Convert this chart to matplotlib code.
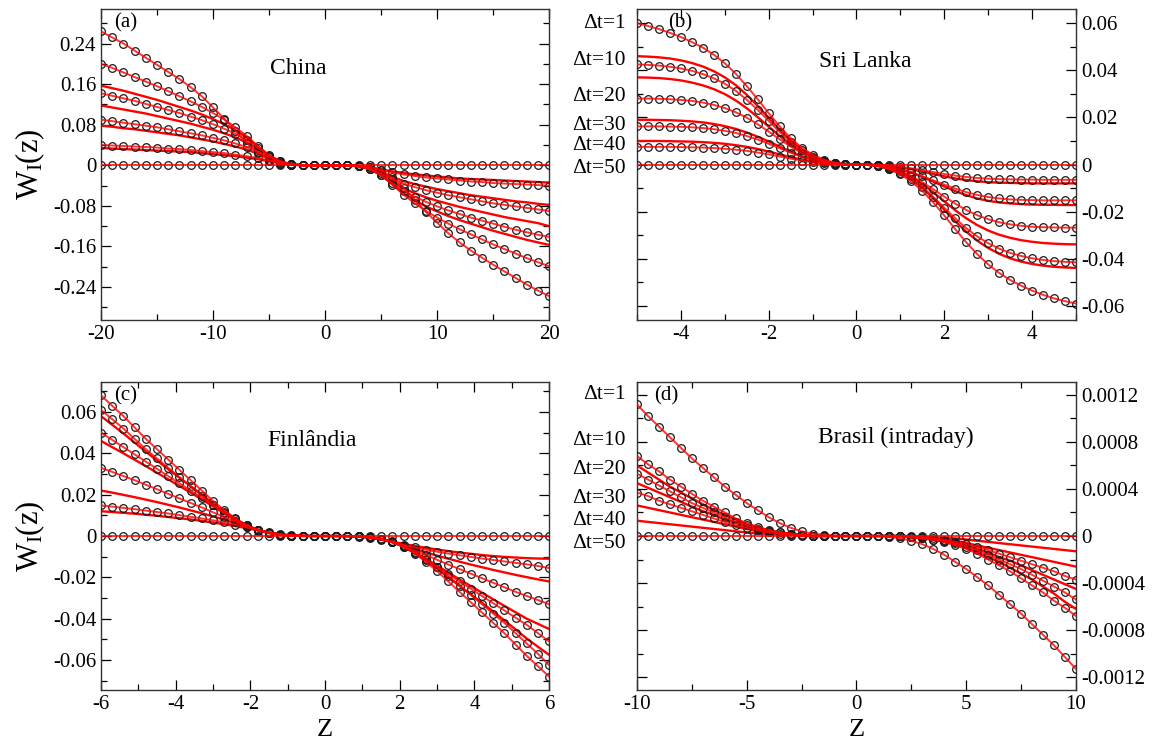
import numpy as np
import matplotlib.pyplot as plt
from matplotlib.ticker import MultipleLocator

plt.rcParams['font.family'] = ['Liberation Serif', 'DejaVu Serif']
plt.rcParams['mathtext.fontset'] = 'custom'
plt.rcParams['mathtext.rm'] = 'Liberation Serif'
plt.rcParams['mathtext.it'] = 'Liberation Serif:italic'

# ---------------- (a) China ----------------
z_china = np.linspace(-20, 20, 41)
china_dt1 = [0.264, 0.252, 0.240, 0.226, 0.212, 0.198, 0.184, 0.170, 0.154, 0.136, 0.114, 0.092, 0.068, 0.044, 0.024, 0.010, 0.003, 0.001, 0.0, 0.0,
             0.0,
             0.0, 0.0, -0.001, -0.003, -0.010, -0.024, -0.044, -0.068, -0.092, -0.113, -0.134, -0.152, -0.168, -0.182, -0.196, -0.209, -0.222, -0.235, -0.247, -0.258]
china_dt10 = [0.200, 0.192, 0.183, 0.174, 0.165, 0.156, 0.146, 0.136, 0.126, 0.115, 0.103, 0.090, 0.075, 0.058, 0.038, 0.020, 0.008, 0.002, 0.0, 0.0,
              0.0,
              0.0, 0.0, -0.002, -0.008, -0.020, -0.038, -0.058, -0.075, -0.090, -0.103, -0.115, -0.126, -0.136, -0.146, -0.156, -0.165, -0.174, -0.183, -0.191, -0.199]
china_dt20 = [0.142, 0.137, 0.132, 0.127, 0.121, 0.115, 0.109, 0.103, 0.096, 0.089, 0.081, 0.072, 0.062, 0.050, 0.035, 0.019, 0.008, 0.002, 0.0, 0.0,
              0.0,
              0.0, 0.0, -0.002, -0.008, -0.019, -0.035, -0.050, -0.062, -0.072, -0.081, -0.089, -0.096, -0.103, -0.109, -0.115, -0.121, -0.127, -0.132, -0.137, -0.141]
china_dt30 = [0.090, 0.087, 0.084, 0.081, 0.078, 0.075, 0.071, 0.067, 0.063, 0.059, 0.054, 0.049, 0.043, 0.036, 0.027, 0.016, 0.007, 0.002, 0.0, 0.0,
              0.0,
              0.0, 0.0, -0.002, -0.007, -0.016, -0.027, -0.036, -0.043, -0.049, -0.054, -0.059, -0.063, -0.067, -0.071, -0.075, -0.078, -0.081, -0.084, -0.087, -0.090]
china_dt40 = [0.040, 0.039, 0.038, 0.037, 0.036, 0.035, 0.033, 0.032, 0.030, 0.028, 0.026, 0.024, 0.021, 0.018, 0.014, 0.009, 0.004, 0.001, 0.0, 0.0,
              0.0,
              0.0, 0.0, -0.001, -0.004, -0.009, -0.014, -0.018, -0.021, -0.024, -0.026, -0.028, -0.030, -0.032, -0.033, -0.035, -0.036, -0.037, -0.038, -0.039, -0.040]
china_dt50 = [0.0] * 41
china_fit_a = [0.157, 0.152, 0.147, 0.141, 0.135, 0.129, 0.122, 0.115, 0.108, 0.100, 0.091, 0.081, 0.069, 0.055, 0.037, 0.019, 0.007, 0.002, 0.0, 0.0,
               0.0,
               0.0, 0.0, -0.002, -0.007, -0.019, -0.037, -0.055, -0.069, -0.081, -0.091, -0.100, -0.108, -0.115, -0.122, -0.129, -0.135, -0.141, -0.147, -0.152, -0.157]
china_fit_b = [0.118, 0.114, 0.110, 0.106, 0.102, 0.097, 0.092, 0.087, 0.082, 0.076, 0.070, 0.063, 0.055, 0.045, 0.032, 0.018, 0.007, 0.002, 0.0, 0.0,
               0.0,
               0.0, 0.0, -0.002, -0.007, -0.018, -0.032, -0.045, -0.055, -0.063, -0.070, -0.076, -0.082, -0.087, -0.092, -0.097, -0.102, -0.106, -0.110, -0.114, -0.120]
china_fit_c = [0.078, 0.076, 0.073, 0.071, 0.068, 0.065, 0.062, 0.059, 0.055, 0.051, 0.047, 0.042, 0.037, 0.031, 0.023, 0.014, 0.006, 0.002, 0.0, 0.0,
               0.0,
               0.0, 0.0, -0.002, -0.006, -0.014, -0.023, -0.031, -0.037, -0.042, -0.047, -0.051, -0.055, -0.059, -0.062, -0.065, -0.068, -0.071, -0.073, -0.076, -0.078]
china_fit_d = [0.034, 0.033, 0.032, 0.031, 0.030, 0.029, 0.028, 0.027, 0.026, 0.024, 0.022, 0.020, 0.018, 0.015, 0.012, 0.008, 0.004, 0.001, 0.0, 0.0,
               0.0,
               0.0, 0.0, -0.001, -0.004, -0.008, -0.012, -0.015, -0.018, -0.020, -0.022, -0.024, -0.026, -0.027, -0.028, -0.029, -0.030, -0.031, -0.032, -0.033, -0.034]

# ---------------- (b) Sri Lanka ----------------
z_sri = np.linspace(-5, 5, 41)
sri_dt1 = [0.0600, 0.0588, 0.0575, 0.0559, 0.0541, 0.0520, 0.0496, 0.0466, 0.0430, 0.0385, 0.0333, 0.0277, 0.0218, 0.0162, 0.0112, 0.0072, 0.0042, 0.0021, 0.0008, 0.0002,
           0.0,
           -0.0002, -0.0008, -0.0021, -0.0042, -0.0072, -0.0112, -0.0161, -0.0216, -0.0274, -0.0330, -0.0380, -0.0424, -0.0460, -0.0490, -0.0514, -0.0535, -0.0553, -0.0568, -0.0580, -0.0590]
sri_dt10 = [0.0425, 0.0423, 0.0420, 0.0415, 0.0408, 0.0398, 0.0384, 0.0366, 0.0343, 0.0313, 0.0275, 0.0232, 0.0185, 0.0138, 0.0095, 0.0060, 0.0034, 0.0017, 0.0006, 0.0001,
            0.0,
            -0.0001, -0.0006, -0.0017, -0.0034, -0.0060, -0.0095, -0.0137, -0.0183, -0.0228, -0.0270, -0.0305, -0.0334, -0.0357, -0.0375, -0.0388, -0.0398, -0.0405, -0.0410, -0.0413, -0.0415]
sri_dt20 = [0.0280, 0.0280, 0.0279, 0.0277, 0.0274, 0.0270, 0.0263, 0.0253, 0.0240, 0.0222, 0.0199, 0.0171, 0.0140, 0.0107, 0.0076, 0.0049, 0.0029, 0.0015, 0.0005, 0.0001,
            0.0,
            -0.0001, -0.0005, -0.0015, -0.0029, -0.0049, -0.0075, -0.0105, -0.0136, -0.0166, -0.0193, -0.0215, -0.0232, -0.0245, -0.0254, -0.0260, -0.0264, -0.0266, -0.0267, -0.0268, -0.0268]
sri_dt30 = [0.0162, 0.0162, 0.0162, 0.0161, 0.0160, 0.0158, 0.0155, 0.0150, 0.0143, 0.0134, 0.0121, 0.0106, 0.0088, 0.0069, 0.0050, 0.0033, 0.0020, 0.0010, 0.0004, 0.0001,
            0.0,
            -0.0001, -0.0004, -0.0010, -0.0020, -0.0033, -0.0049, -0.0067, -0.0085, -0.0102, -0.0117, -0.0129, -0.0138, -0.0144, -0.0148, -0.0150, -0.0151, -0.0152, -0.0152, -0.0152, -0.0152]
sri_dt40 = [0.0075, 0.0075, 0.0075, 0.0075, 0.0074, 0.0073, 0.0072, 0.0070, 0.0067, 0.0063, 0.0058, 0.0051, 0.0043, 0.0034, 0.0025, 0.0017, 0.0010, 0.0005, 0.0002, 0.0,
            0.0,
            0.0, -0.0002, -0.0005, -0.0010, -0.0016, -0.0024, -0.0032, -0.0040, -0.0047, -0.0053, -0.0057, -0.0060, -0.0062, -0.0063, -0.0064, -0.0064, -0.0065, -0.0065, -0.0065, -0.0065]
sri_dt50 = [0.0] * 41
sri_fit_a = [0.0460, 0.0458, 0.0455, 0.0450, 0.0442, 0.0431, 0.0416, 0.0396, 0.0370, 0.0337, 0.0296, 0.0249, 0.0198, 0.0148, 0.0102, 0.0064, 0.0036, 0.0018, 0.0006, 0.0001,
             0.0,
             -0.0001, -0.0006, -0.0018, -0.0036, -0.0063, -0.0099, -0.0143, -0.0192, -0.0241, -0.0285, -0.0323, -0.0354, -0.0379, -0.0398, -0.0412, -0.0422, -0.0429, -0.0434, -0.0437, -0.0439]
sri_fit_b = [0.0370, 0.0369, 0.0367, 0.0363, 0.0357, 0.0348, 0.0336, 0.0320, 0.0299, 0.0272, 0.0239, 0.0201, 0.0161, 0.0121, 0.0084, 0.0053, 0.0030, 0.0015, 0.0005, 0.0001,
             0.0,
             -0.0001, -0.0005, -0.0015, -0.0030, -0.0052, -0.0082, -0.0118, -0.0156, -0.0194, -0.0228, -0.0257, -0.0280, -0.0298, -0.0311, -0.0321, -0.0328, -0.0333, -0.0336, -0.0338, -0.0339]
sri_fit_c = [0.0190, 0.0190, 0.0189, 0.0188, 0.0186, 0.0183, 0.0179, 0.0172, 0.0163, 0.0151, 0.0136, 0.0118, 0.0098, 0.0076, 0.0055, 0.0036, 0.0021, 0.0011, 0.0004, 0.0001,
             0.0,
             -0.0001, -0.0004, -0.0011, -0.0021, -0.0035, -0.0053, -0.0073, -0.0093, -0.0113, -0.0130, -0.0144, -0.0154, -0.0161, -0.0165, -0.0168, -0.0170, -0.0171, -0.0171, -0.0172, -0.0172]
sri_fit_d = [0.0100, 0.0100, 0.0100, 0.0099, 0.0098, 0.0097, 0.0095, 0.0092, 0.0088, 0.0082, 0.0075, 0.0066, 0.0055, 0.0043, 0.0031, 0.0021, 0.0012, 0.0006, 0.0002, 0.0,
             0.0,
             0.0, -0.0002, -0.0006, -0.0012, -0.0020, -0.0030, -0.0040, -0.0050, -0.0059, -0.0066, -0.0071, -0.0075, -0.0077, -0.0078, -0.0079, -0.0080, -0.0080, -0.0080, -0.0080, -0.0080]

# ---------------- (c) Finlandia ----------------
z_fin = np.linspace(-6, 6, 41)
fin_dt1 = [0.068, 0.063, 0.058, 0.0525, 0.047, 0.042, 0.037, 0.032, 0.027, 0.022, 0.017, 0.0125, 0.0085, 0.0052, 0.003, 0.0015, 0.0007, 0.0002, 0.0, 0.0,
           0.0,
           0.0, 0.0, -0.0002, -0.0007, -0.0015, -0.003, -0.0052, -0.0085, -0.0125, -0.017, -0.022, -0.027, -0.032, -0.037, -0.042, -0.047, -0.0525, -0.058, -0.063, -0.068]
fin_dt10 = [0.061, 0.0565, 0.052, 0.047, 0.042, 0.0375, 0.033, 0.0285, 0.024, 0.0195, 0.015, 0.011, 0.0075, 0.0046, 0.0026, 0.0013, 0.0006, 0.0002, 0.0, 0.0,
            0.0,
            0.0, 0.0, -0.0002, -0.0006, -0.0013, -0.0026, -0.0046, -0.0075, -0.011, -0.015, -0.0195, -0.024, -0.0285, -0.033, -0.0375, -0.042, -0.047, -0.052, -0.057, -0.0625]
fin_dt20 = [0.050, 0.0465, 0.043, 0.0395, 0.036, 0.0325, 0.029, 0.0255, 0.022, 0.0185, 0.015, 0.0115, 0.0082, 0.0053, 0.003, 0.0015, 0.0006, 0.0002, 0.0, 0.0,
            0.0,
            0.0, 0.0, -0.0002, -0.0006, -0.0015, -0.003, -0.0053, -0.0082, -0.0115, -0.015, -0.0185, -0.022, -0.0255, -0.029, -0.0325, -0.036, -0.0395, -0.043, -0.047, -0.051]
fin_dt30 = [0.033, 0.031, 0.029, 0.027, 0.0248, 0.0226, 0.0204, 0.0182, 0.016, 0.0138, 0.0115, 0.0092, 0.007, 0.0048, 0.003, 0.0016, 0.0007, 0.0002, 0.0, 0.0,
            0.0,
            0.0, 0.0, -0.0002, -0.0007, -0.0016, -0.003, -0.0048, -0.007, -0.0092, -0.0115, -0.0138, -0.016, -0.0182, -0.0204, -0.0226, -0.0248, -0.027, -0.029, -0.031, -0.033]
fin_dt40 = [0.0148, 0.0142, 0.0136, 0.013, 0.0123, 0.0116, 0.0109, 0.0101, 0.0093, 0.0085, 0.0076, 0.0066, 0.0055, 0.0042, 0.0029, 0.0017, 0.0008, 0.0003, 0.0001, 0.0,
            0.0,
            0.0, -0.0001, -0.0003, -0.0008, -0.0017, -0.0029, -0.0042, -0.0055, -0.0066, -0.0076, -0.0085, -0.0093, -0.0101, -0.0109, -0.0116, -0.0123, -0.013, -0.0137, -0.0145, -0.0155]
fin_dt50 = [0.0] * 41
fin_fit_a = [0.058, 0.0538, 0.0496, 0.0452, 0.0408, 0.0365, 0.0323, 0.0282, 0.0241, 0.0200, 0.0158, 0.0118, 0.0082, 0.0051, 0.0029, 0.0014, 0.0006, 0.0002, 0.0, 0.0,
             0.0,
             0.0, 0.0, -0.0002, -0.0006, -0.0014, -0.0029, -0.0051, -0.0082, -0.0118, -0.0158, -0.0200, -0.0241, -0.0282, -0.0323, -0.0365, -0.0408, -0.0452, -0.0496, -0.0536, -0.0575]
fin_fit_b = [0.046, 0.0430, 0.0400, 0.0369, 0.0338, 0.0306, 0.0274, 0.0242, 0.0210, 0.0177, 0.0143, 0.0110, 0.0079, 0.0051, 0.0029, 0.0015, 0.0006, 0.0002, 0.0, 0.0,
             0.0,
             0.0, 0.0, -0.0002, -0.0006, -0.0015, -0.0029, -0.0051, -0.0079, -0.0110, -0.0143, -0.0177, -0.0210, -0.0242, -0.0274, -0.0306, -0.0338, -0.0369, -0.0400, -0.0425, -0.0450]
fin_fit_c = [0.022, 0.0210, 0.0199, 0.0188, 0.0176, 0.0164, 0.0151, 0.0138, 0.0124, 0.0110, 0.0095, 0.0079, 0.0062, 0.0045, 0.0030, 0.0017, 0.0008, 0.0003, 0.0001, 0.0,
             0.0,
             0.0, -0.0001, -0.0003, -0.0008, -0.0017, -0.0030, -0.0045, -0.0062, -0.0079, -0.0095, -0.0110, -0.0124, -0.0138, -0.0151, -0.0164, -0.0176, -0.0188, -0.0199, -0.0210, -0.0220]
fin_fit_d = [0.012, 0.0116, 0.0112, 0.0108, 0.0103, 0.0098, 0.0092, 0.0086, 0.0080, 0.0073, 0.0065, 0.0057, 0.0048, 0.0038, 0.0027, 0.0016, 0.0008, 0.0003, 0.0001, 0.0,
             0.0,
             0.0, -0.0001, -0.0003, -0.0008, -0.0016, -0.0027, -0.0038, -0.0048, -0.0057, -0.0065, -0.0073, -0.0080, -0.0086, -0.0092, -0.0097, -0.0101, -0.0104, -0.0107, -0.0109, -0.0110]

# ---------------- (d) Brasil (intraday) ----------------
z_bra = np.linspace(-10, 10, 41)
bra_dt1 = [0.00112, 0.00102, 0.00093, 0.00084, 0.00075, 0.00066, 0.00058, 0.00050, 0.00042, 0.00035, 0.00028, 0.00022, 0.00016, 0.00011, 0.00007, 0.00004, 0.00002, 0.00001, 0.0, 0.0,
           0.0,
           0.0, 0.0, -0.00001, -0.00002, -0.00004, -0.00007, -0.00011, -0.00016, -0.00022, -0.00028, -0.00035, -0.00042, -0.00050, -0.00058, -0.00066, -0.00075, -0.00084, -0.00093, -0.00103, -0.00113]
bra_dt10 = [0.00068, 0.00061, 0.00055, 0.00048, 0.00042, 0.00036, 0.00030, 0.00025, 0.00020, 0.00015, 0.00011, 0.00008, 0.00005, 0.00003, 0.00002, 0.00001, 0.0, 0.0, 0.0, 0.0,
            0.0,
            0.0, 0.0, 0.0, 0.0, -0.00001, -0.00002, -0.00003, -0.00005, -0.00008, -0.00011, -0.00015, -0.00020, -0.00025, -0.00030, -0.00036, -0.00042, -0.00048, -0.00055, -0.00061, -0.00068]
bra_dt20 = [0.00053, 0.00048, 0.00043, 0.00038, 0.00033, 0.00028, 0.00024, 0.00020, 0.00016, 0.00012, 0.00009, 0.00006, 0.00004, 0.00003, 0.00002, 0.00001, 0.0, 0.0, 0.0, 0.0,
            0.0,
            0.0, 0.0, 0.0, 0.0, -0.00001, -0.00002, -0.00003, -0.00004, -0.00006, -0.00009, -0.00012, -0.00016, -0.00020, -0.00024, -0.00028, -0.00033, -0.00038, -0.00043, -0.00048, -0.00054]
bra_dt30 = [0.00037, 0.00034, 0.00030, 0.00027, 0.00024, 0.00021, 0.00018, 0.00015, 0.00012, 0.00009, 0.00007, 0.00005, 0.00003, 0.00002, 0.00001, 0.00001, 0.0, 0.0, 0.0, 0.0,
            0.0,
            0.0, 0.0, 0.0, 0.0, -0.00001, -0.00001, -0.00002, -0.00003, -0.00005, -0.00007, -0.00009, -0.00012, -0.00015, -0.00018, -0.00021, -0.00024, -0.00027, -0.00030, -0.00034, -0.00037]
bra_dt50 = [0.0] * 41
bra_fit_a = [0.00060, 0.00054, 0.00048, 0.00042, 0.00037, 0.00032, 0.00027, 0.00022, 0.00018, 0.00014, 0.00010, 0.00007, 0.00005, 0.00003, 0.00002, 0.00001, 0.0, 0.0, 0.0, 0.0,
             0.0,
             0.0, 0.0, 0.0, 0.0, -0.00001, -0.00002, -0.00003, -0.00005, -0.00007, -0.00010, -0.00014, -0.00018, -0.00022, -0.00027, -0.00032, -0.00037, -0.00043, -0.00049, -0.00056, -0.00062]
bra_fit_b = [0.00045, 0.00041, 0.00037, 0.00033, 0.00029, 0.00025, 0.00021, 0.00018, 0.00014, 0.00011, 0.00008, 0.00006, 0.00004, 0.00003, 0.00002, 0.00001, 0.0, 0.0, 0.0, 0.0,
             0.0,
             0.0, 0.0, 0.0, 0.0, -0.00001, -0.00002, -0.00003, -0.00004, -0.00006, -0.00008, -0.00011, -0.00014, -0.00018, -0.00021, -0.00025, -0.00029, -0.00033, -0.00037, -0.00041, -0.00045]
bra_fit_c = [0.00026, 0.00024, 0.00022, 0.00020, 0.00018, 0.00016, 0.00014, 0.00012, 0.00010, 0.00008, 0.00006, 0.00004, 0.00003, 0.00002, 0.00001, 0.00001, 0.0, 0.0, 0.0, 0.0,
             0.0,
             0.0, 0.0, 0.0, 0.0, -0.00001, -0.00001, -0.00002, -0.00003, -0.00004, -0.00006, -0.00008, -0.00010, -0.00012, -0.00014, -0.00016, -0.00018, -0.00020, -0.00022, -0.00024, -0.00026]
bra_fit_d = [0.00013, 0.00012, 0.00011, 0.00010, 0.00009, 0.00008, 0.00007, 0.00006, 0.00005, 0.00004, 0.00003, 0.00002, 0.00002, 0.00001, 0.00001, 0.0, 0.0, 0.0, 0.0, 0.0,
             0.0,
             0.0, 0.0, 0.0, 0.0, 0.0, -0.00001, -0.00001, -0.00002, -0.00002, -0.00003, -0.00004, -0.00005, -0.00006, -0.00007, -0.00008, -0.00009, -0.00010, -0.00011, -0.00012, -0.00013]

dt_labels = ['\u0394t=1', '\u0394t=10', '\u0394t=20', '\u0394t=30', '\u0394t=40', '\u0394t=50']
sri_label_y = [0.060, 0.044, 0.029, 0.0165, 0.008, -0.0015]
bra_label_y = [0.00120, 0.00081, 0.00057, 0.00032, 0.00013, -0.00006]


def draw_panel(ax, z, data_curves, fit_curves):
    # curvas ajustadas (vermelho)
    for y in fit_curves:
        ax.plot(z, y, color='red', lw=1.7, zorder=2)
    # dados (círculos abertos) com o ajuste por cima
    for y in data_curves:
        ax.plot(z, y, 'o', mfc='none', mec='#1a1a1a', ms=5.5, mew=0.9, zorder=3)
        ax.plot(z, y, color='red', lw=1.4, alpha=0.8, zorder=4)


def style_axes(ax, xlim, ylim, xmaj, xmin, ymaj, ymin, yfmt, right=False):
    ax.set_xlim(*xlim)
    ax.set_ylim(*ylim)
    ax.xaxis.set_major_locator(MultipleLocator(xmaj))
    ax.xaxis.set_minor_locator(MultipleLocator(xmin))
    ax.yaxis.set_major_locator(MultipleLocator(ymaj))
    ax.yaxis.set_minor_locator(MultipleLocator(ymin))
    ax.yaxis.set_major_formatter(plt.FuncFormatter(yfmt))
    ax.xaxis.set_major_formatter(plt.FuncFormatter(lambda v, p: '%g' % v))
    ax.tick_params(which='both', direction='in', top=True, right=True, labelsize=15)
    ax.tick_params(which='major', length=7, width=0.9)
    ax.tick_params(which='minor', length=4, width=0.9)
    if right:
        ax.yaxis.tick_right()
        ax.tick_params(which='both', left=True, right=True)
    for s in ax.spines.values():
        s.set_linewidth(1.0)
        s.set_color('#333333')


def fmt(v, p):
    if abs(v) < 1e-12:
        return '0'
    return ('%.4f' % v).rstrip('0')


def fmt2(v, p):
    if abs(v) < 1e-12:
        return '0'
    return '%.2f' % v


fig = plt.figure(figsize=(11.61, 7.47), dpi=100)
ax_a = fig.add_axes([0.087, 0.5716, 0.386, 0.4163])
ax_b = fig.add_axes([0.5487, 0.5716, 0.378, 0.4163])
ax_c = fig.add_axes([0.087, 0.0763, 0.386, 0.4123])
ax_d = fig.add_axes([0.5487, 0.0763, 0.378, 0.4123])

draw_panel(ax_a, z_china, [china_dt1, china_dt10, china_dt20, china_dt30, china_dt40, china_dt50],
           [china_fit_a, china_fit_b, china_fit_c, china_fit_d])
style_axes(ax_a, (-20, 20), (-0.305, 0.308), 10, 5, 0.08, 0.04, fmt2)
ax_a.text(0.03, 0.985, '(a)', transform=ax_a.transAxes, ha='left', va='top', fontsize=15)
ax_a.text(0.44, 0.81, 'China', transform=ax_a.transAxes, ha='center', va='center', fontsize=17)
ax_a.set_ylabel(r'W$_{\rm I}$(z)', fontsize=22, labelpad=4)

draw_panel(ax_b, z_sri, [sri_dt1, sri_dt10, sri_dt20, sri_dt30, sri_dt40, sri_dt50],
           [sri_fit_a, sri_fit_b, sri_fit_c, sri_fit_d])
style_axes(ax_b, (-5, 5), (-0.066, 0.066), 2, 1, 0.02, 0.01, fmt2, right=True)
ax_b.text(0.07, 0.985, '(b)', transform=ax_b.transAxes, ha='left', va='top', fontsize=15)
ax_b.text(0.52, 0.83, 'Sri Lanka', transform=ax_b.transAxes, ha='center', va='center', fontsize=17)
for lab, yv in zip(dt_labels, sri_label_y):
    ax_b.text(-0.025, yv, lab, transform=ax_b.get_yaxis_transform(), ha='right', va='center', fontsize=15.5)

draw_panel(ax_c, z_fin, [fin_dt1, fin_dt10, fin_dt20, fin_dt30, fin_dt40, fin_dt50],
           [fin_fit_a, fin_fit_b, fin_fit_c, fin_fit_d])
style_axes(ax_c, (-6, 6), (-0.0745, 0.0745), 2, 1, 0.02, 0.01, fmt2)
ax_c.text(0.03, 0.985, '(c)', transform=ax_c.transAxes, ha='left', va='top', fontsize=15)
ax_c.text(0.47, 0.81, 'Finlândia', transform=ax_c.transAxes, ha='center', va='center', fontsize=17)
ax_c.set_ylabel(r'W$_{\rm I}$(z)', fontsize=22, labelpad=4)
ax_c.set_xlabel('Z', fontsize=19, labelpad=4)

draw_panel(ax_d, z_bra, [bra_dt1, bra_dt10, bra_dt20, bra_dt30, bra_dt50],
           [bra_fit_a, bra_fit_b, bra_fit_c, bra_fit_d])
style_axes(ax_d, (-10, 10), (-0.00131, 0.00131), 5, 2.5, 0.0004, 0.0002, fmt, right=True)
ax_d.text(0.04, 0.985, '(d)', transform=ax_d.transAxes, ha='left', va='top', fontsize=15)
ax_d.text(0.59, 0.82, 'Brasil (intraday)', transform=ax_d.transAxes, ha='center', va='center', fontsize=17)
ax_d.set_xlabel('Z', fontsize=19, labelpad=4)
for lab, yv in zip(dt_labels, bra_label_y):
    ax_d.text(-0.025, yv, lab, transform=ax_d.get_yaxis_transform(), ha='right', va='center', fontsize=15.5)

fig.savefig('out.png', dpi=100)
